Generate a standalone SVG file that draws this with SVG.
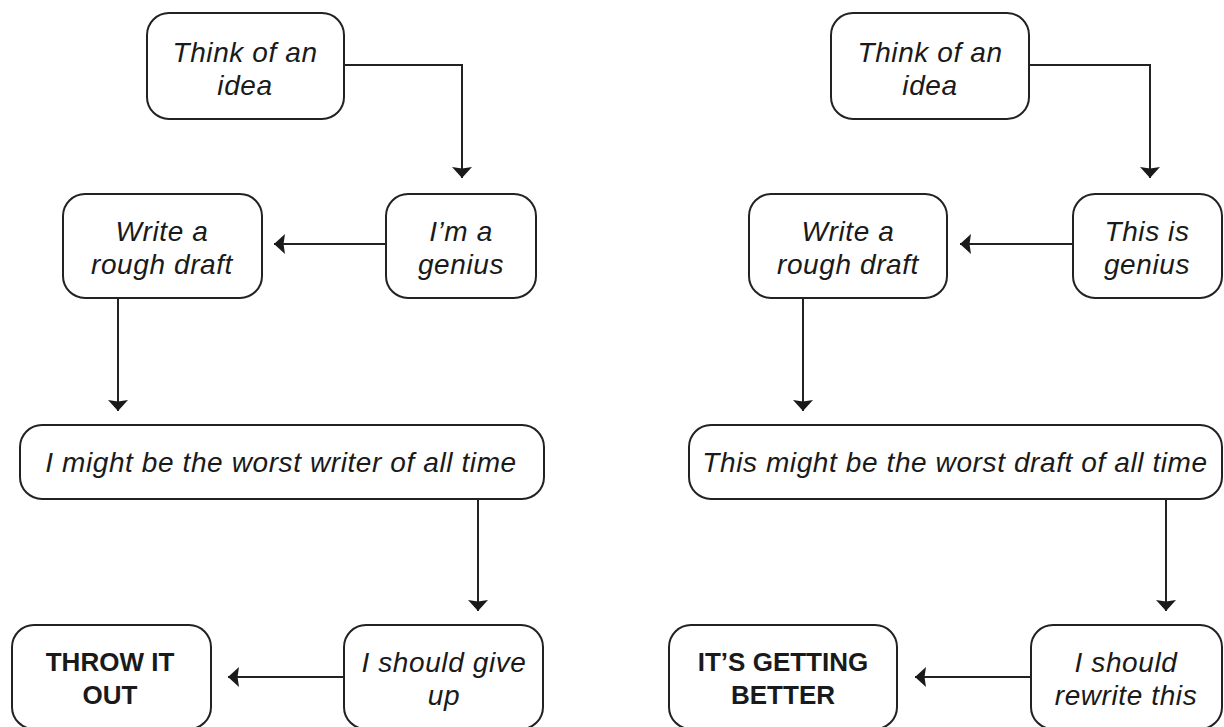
<svg xmlns="http://www.w3.org/2000/svg" width="1224" height="727" viewBox="0 0 1224 727">
<defs>
<style>
.box{fill:#fff;stroke:#222;stroke-width:2}
.t{font-family:"Liberation Sans",Arial,sans-serif;font-style:italic;font-size:28px;letter-spacing:0.6px;fill:#1a1a1a;text-anchor:middle}
.b{font-family:"Liberation Sans",Arial,sans-serif;font-weight:bold;font-size:26px;fill:#1a1a1a;text-anchor:middle}
.c{fill:none;stroke:#222;stroke-width:2}
</style>
<marker id="ah" markerWidth="12" markerHeight="22" refX="11" refY="10" orient="auto" markerUnits="userSpaceOnUse">
<path d="M0,0 L11,10 L0,20 L1.5,10 Z" fill="#1a1a1a"/>
</marker>
</defs>
<rect width="1224" height="727" fill="#fff"/>
<g id="connectors">
<path class="c" d="M344,65 H462 V178" marker-end="url(#ah)"/>
<path class="c" d="M386,244 H274" marker-end="url(#ah)"/>
<path class="c" d="M118,298 V411" marker-end="url(#ah)"/>
<path class="c" d="M478,499 V611" marker-end="url(#ah)"/>
<path class="c" d="M344,677 H228" marker-end="url(#ah)"/>
<path class="c" d="M1029,65 H1150 V178" marker-end="url(#ah)"/>
<path class="c" d="M1073,244 H960" marker-end="url(#ah)"/>
<path class="c" d="M803,298 V411" marker-end="url(#ah)"/>
<path class="c" d="M1166,499 V611" marker-end="url(#ah)"/>
<path class="c" d="M1031,677 H915" marker-end="url(#ah)"/>
</g>
<g id="l-idea"><rect class="box" x="147" y="13" width="197" height="106" rx="22"/><text class="t" x="245" y="62">Think of an</text><text class="t" x="245" y="95">idea</text></g>
<g id="l-genius"><rect class="box" x="386" y="194" width="150" height="104" rx="22"/><text class="t" x="461" y="241">I’m a</text><text class="t" x="461" y="274">genius</text></g>
<g id="l-draft"><rect class="box" x="63" y="194" width="199" height="104" rx="22"/><text class="t" x="162" y="241">Write a</text><text class="t" x="162" y="274">rough draft</text></g>
<g id="l-worst"><rect class="box" x="20" y="425" width="524" height="74" rx="22"/><text class="t" x="281" y="472">I might be the worst writer of all time</text></g>
<g id="l-giveup"><rect class="box" x="344" y="625" width="199" height="104" rx="22"/><text class="t" x="444" y="672">I should give</text><text class="t" x="444" y="705">up</text></g>
<g id="l-throw"><rect class="box" x="12" y="625" width="199" height="104" rx="22"/><text class="b" x="110" y="671">THROW IT</text><text class="b" x="110" y="704">OUT</text></g>
<g id="r-idea"><rect class="box" x="831" y="13" width="198" height="106" rx="22"/><text class="t" x="930" y="62">Think of an</text><text class="t" x="930" y="95">idea</text></g>
<g id="r-genius"><rect class="box" x="1073" y="194" width="149" height="104" rx="22"/><text class="t" x="1147" y="241">This is</text><text class="t" x="1147" y="274">genius</text></g>
<g id="r-draft"><rect class="box" x="749" y="194" width="198" height="104" rx="22"/><text class="t" x="848" y="241">Write a</text><text class="t" x="848" y="274">rough draft</text></g>
<g id="r-worst"><rect class="box" x="689" y="425" width="533" height="74" rx="22"/><text class="t" x="955" y="472">This might be the worst draft of all time</text></g>
<g id="r-rewrite"><rect class="box" x="1031" y="625" width="191" height="104" rx="22"/><text class="t" x="1126" y="672">I should</text><text class="t" x="1126" y="705">rewrite this</text></g>
<g id="r-better"><rect class="box" x="669" y="625" width="228" height="104" rx="22"/><text class="b" x="783" y="671">IT’S GETTING</text><text class="b" x="783" y="704">BETTER</text></g>
</svg>
